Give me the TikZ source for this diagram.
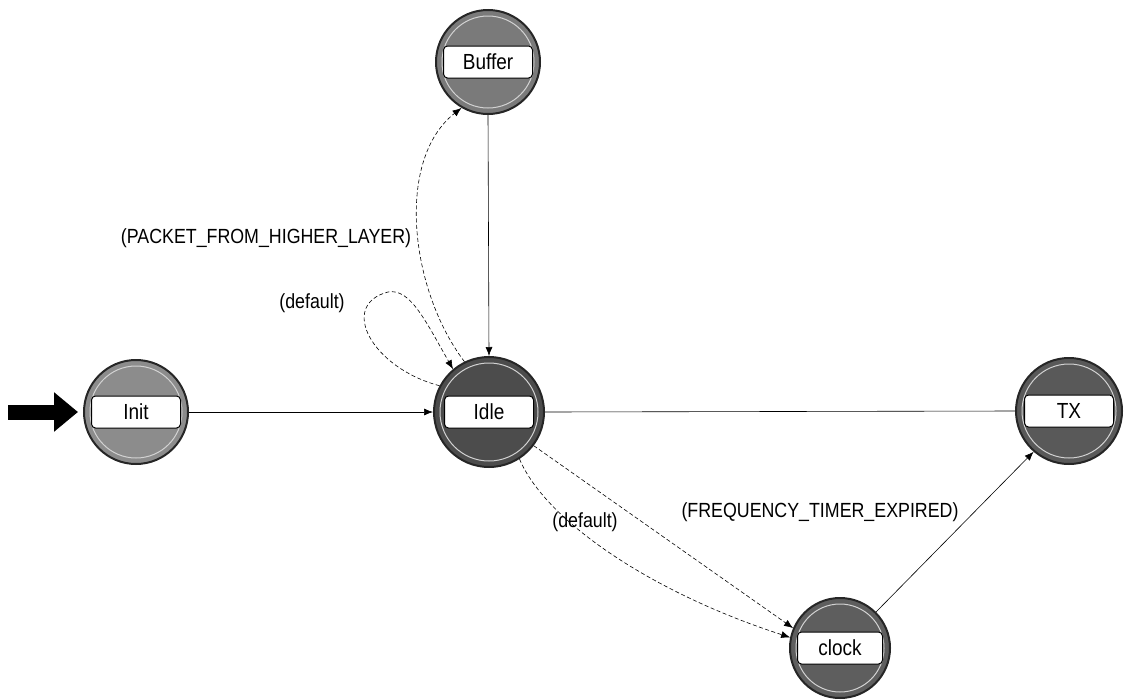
\documentclass[tikz,border=0pt]{standalone}
\usepackage{fontspec}
\setmainfont{Liberation Sans}
\usetikzlibrary{arrows.meta}
\newcommand{\tall}[1]{\scalebox{1}[1.15]{#1}}
\begin{document}
\begin{tikzpicture}[x=1pt,y=-1pt,
  state/.style={circle, inner sep=0pt, minimum size=104pt, draw=black!85, line width=2pt},
  statebox/.style={rectangle, rounded corners=4pt, draw=black, line width=1pt, fill=white,
    minimum width=89pt, minimum height=32pt, inner sep=0pt, font=\fontsize{19}{19}\selectfont},
  trans/.style={line width=0.6pt, -{Latex[length=9pt,width=7pt]}},
  dtrans/.style={trans, dash pattern=on 4pt off 2.5pt},
  cond/.style={font=\fontsize{17.8}{18}\selectfont, inner sep=0pt}]
\useasboundingbox (0,0) rectangle (1124,699);

% states
\node[state, fill=black!45] (init) at (136,412) {};
\node[state, fill=black!70, minimum size=110pt] (idle) at (489,412) {};
\node[state, fill=black!52] (buffer) at (488,62) {};
\node[state, fill=black!65, minimum size=106pt] (tx) at (1069,411) {};
\node[state, fill=black!63, minimum size=100pt] (clock) at (840,648) {};

% bevel rings
\foreach \n/\r in {init/46, idle/49, buffer/46, tx/47, clock/44}
  \draw[white!65!gray, line width=1pt] (\n.center) circle (\r);

% name boxes
\node[statebox] (initL) at (init.center) {\tall{Init}};
\node[statebox] (idleL) at (idle.center) {\tall{Idle}};
\node[statebox] (bufferL) at (buffer.center) {\tall{Buffer}};
\node[statebox] (txL) at (tx.center) {\tall{TX}};
\node[statebox, minimum width=85pt] (clockL) at (clock.center) {\tall{clock}};

% initial-state marker
\coordinate (start) at (8,412);
\draw[line width=15pt, -{Triangle[length=24pt,width=38pt]}, shorten >=5pt] (start) -- (init.west);

% transitions
\draw[trans] (init.east) -- (idle.west);
\draw[trans] (buffer.south) -- (idle.north);
\draw[dtrans] (idle.116) .. controls (410,290) and (395,160) .. (buffer.240);
\draw[dtrans] (idle.152) .. controls (372,368) and (338,305) .. (388,292)
  .. controls (410,288) and (425,320) .. (idle.130);
\draw[line width=0.6pt] (idle.east) -- (tx.west);
\draw[dtrans] (idle.-37) -- (clock.157);
\draw[dtrans] (idle.-57) .. controls (545,520) and (650,592) .. (clock.168);
\draw[trans] (clock.45) -- (tx.229);

% conditions
\node[cond] (c1) at (266,238) {\tall{(PACKET\_FROM\_HIGHER\_LAYER)}};
\node[cond] (c2) at (312,303) {\tall{(default)}};
\node[cond] (c3) at (820,512) {\tall{(FREQUENCY\_TIMER\_EXPIRED)}};
\node[cond] (c4) at (585,522) {\tall{(default)}};
\end{tikzpicture}
\end{document}
